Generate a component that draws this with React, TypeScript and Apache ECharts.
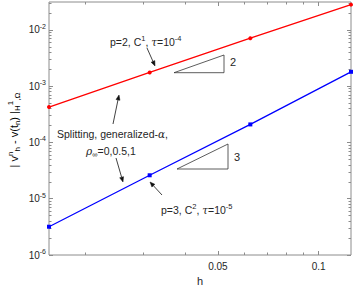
import React, { useEffect, useRef } from "react";
import * as echarts from "echarts";

const H_VALUES = [1 / 64, 1 / 32, 1 / 16, 1 / 8];
const ERR_P2 = [4.26e-4, 1.75e-3, 7.13e-3, 2.81e-2];
const ERR_P3 = [3.18e-6, 2.61e-5, 2.09e-4, 1.8e-3];
const X_LABEL_TICKS = [0.05, 0.1];
const X_MINOR_TICKS = [0.02, 0.03, 0.04, 0.06, 0.07, 0.08, 0.09];
const Y_DECADES = [-6, -5, -4, -3, -2];
const Y_MAX = 0.0313;
const Y_MIN = 1e-6;

const FONT = '"Liberation Sans", Arial, Helvetica, sans-serif';
const TXT = "#262626";
const FRAME = "#8c8c8c";

const lg = (v: number) => Math.log10(v);

const mkRich = (fs: number, ss: number, off: number) => ({
  n: { fontSize: fs, fontFamily: FONT, color: TXT, lineHeight: fs + 2, verticalAlign: "middle" },
  sp: { fontSize: ss, fontFamily: FONT, color: TXT, lineHeight: ss + 1, padding: [0, 0, off, 0], verticalAlign: "middle" },
  sb: { fontSize: ss, fontFamily: FONT, color: TXT, lineHeight: ss + 1, padding: [off, 0, 0, 0], verticalAlign: "middle" },
  g: { fontSize: fs, fontFamily: "DejaVu Serif, serif", fontStyle: "italic", color: TXT, lineHeight: fs + 2, verticalAlign: "middle" },
});
const richTick = mkRich(10, 7, 7);
const richAnn = mkRich(10.5, 7.5, 7);
const richTitle = mkRich(11, 8, 7);

function arrow(x1: number, y1: number, x2: number, y2: number) {
  const dx = x2 - x1;
  const dy = y2 - y1;
  const L = Math.sqrt(dx * dx + dy * dy);
  const ux = dx / L;
  const uy = dy / L;
  const hl = 5;
  const hw = 2;
  const bx = x2 - ux * hl;
  const by = y2 - uy * hl;
  return {
    type: "group",
    silent: true,
    children: [
      { type: "line", shape: { x1, y1, x2: bx, y2: by }, style: { stroke: "#111", lineWidth: 0.8 } },
      {
        type: "polygon",
        shape: {
          points: [
            [x2, y2],
            [bx - uy * hw, by + ux * hw],
            [bx + uy * hw, by - ux * hw],
          ],
        },
        style: { fill: "#111", stroke: "#111", lineWidth: 0.5 },
      },
    ],
  };
}

function tri(pts: number[][]) {
  return {
    type: "polygon",
    silent: true,
    shape: { points: pts },
    style: { fill: "none", stroke: "#333", lineWidth: 0.8 },
  };
}

function label(x: number, y: number, text: string) {
  return {
    type: "text",
    silent: true,
    x,
    y,
    style: { text, rich: richAnn, align: "left", verticalAlign: "middle", fontFamily: FONT, fontSize: 10.5, fill: TXT },
  };
}

export default function App() {
  const ref = useRef<HTMLDivElement>(null);
  useEffect(() => {
    document.body.style.margin = "0";
    if (!ref.current) return;
    const chart = echarts.init(ref.current, undefined, { renderer: "svg" });
    const xmin = lg(H_VALUES[0]);
    const xmax = lg(H_VALUES[H_VALUES.length - 1]);
    const ymin = lg(Y_MIN);
    const ymax = lg(Y_MAX);
    const yMinor: number[] = [];
    Y_DECADES.forEach((d) => {
      for (let k = 2; k <= 9; k++) {
        const v = d + lg(k);
        if (v < ymax) yMinor.push(v);
      }
    });
    const xMaj = X_LABEL_TICKS.map(lg);
    const xMin = X_MINOR_TICKS.map(lg);

    const mkX = (pos: string, ticks: number[], len: number, labels: boolean, name?: string) => ({
      type: "value",
      position: pos,
      min: xmin,
      max: xmax,
      axisLine: { show: false },
      splitLine: { show: false },
      axisTick: { show: true, inside: true, length: len, customValues: ticks, lineStyle: { color: FRAME, width: 1 } },
      axisLabel: labels
        ? {
            show: true,
            customValues: ticks,
            margin: 6,
            fontFamily: FONT,
            fontSize: 10,
            color: TXT,
            formatter: (v: number) => String(parseFloat(Math.pow(10, v).toPrecision(2))),
          }
        : { show: false },
      name: name || "",
      nameLocation: "middle",
      nameGap: 18,
      nameTextStyle: { fontFamily: FONT, fontSize: 11, color: TXT },
    });
    const mkY = (pos: string, ticks: number[], len: number, labels: boolean) => ({
      type: "value",
      position: pos,
      min: ymin,
      max: ymax,
      axisLine: { show: false },
      splitLine: { show: false },
      axisTick: { show: true, inside: true, length: len, customValues: ticks, lineStyle: { color: FRAME, width: 1 } },
      axisLabel: labels
        ? {
            show: true,
            customValues: ticks,
            margin: 3,
            rich: richTick,
            formatter: (v: number) => `{n|10}{sp|${Math.round(v)}}`,
          }
        : { show: false },
    });

    chart.setOption({
      animation: false,
      grid: {
        left: 49,
        right: 3,
        top: 2,
        bottom: 36,
        show: true,
        borderColor: FRAME,
        borderWidth: 1,
        outerBoundsMode: "none",
      },
      xAxis: [
        mkX("bottom", xMaj, 4, true, "h"),
        mkX("bottom", xMin, 2.5, false),
        mkX("top", xMaj, 4, false),
        mkX("top", xMin, 2.5, false),
      ],
      yAxis: [
        mkY("left", Y_DECADES, 4, true),
        mkY("left", yMinor, 2.5, false),
        mkY("right", Y_DECADES, 4, false),
        mkY("right", yMinor, 2.5, false),
      ],
      series: [
        {
          type: "line",
          data: H_VALUES.map((h, i) => [lg(h), lg(ERR_P2[i])]),
          xAxisIndex: 0,
          yAxisIndex: 0,
          symbol: "circle",
          symbolSize: 4,
          lineStyle: { color: "#ff0000", width: 1.3 },
          itemStyle: { color: "#ff0000" },
        },
        {
          type: "line",
          data: H_VALUES.map((h, i) => [lg(h), lg(ERR_P3[i])]),
          xAxisIndex: 0,
          yAxisIndex: 0,
          symbol: "rect",
          symbolSize: 4,
          lineStyle: { color: "#0000ff", width: 1.3 },
          itemStyle: { color: "#0000ff" },
        },
      ],
      graphic: [
        {
          type: "text",
          silent: true,
          x: 14,
          y: 130,
          rotation: Math.PI / 2,
          style: {
            text: "{n|| v}{sp|n}{sb|h}{n| - v(t}{sb|n}{n|) |}{sb|H}{sp|1}{sb|,Ω}",
            rich: richTitle,
            align: "center",
            verticalAlign: "middle",
          },
        },
        label(110, 42, "{n|p=2, C}{sp|1}{n|, }{g|τ}{n|=10}{sp|-4}"),
        arrow(147, 48, 155, 66),
        tri([
          [174, 72.7],
          [224, 72.7],
          [224, 55],
        ]),
        { type: "text", silent: true, x: 230, y: 62, style: { text: "2", fontFamily: FONT, fontSize: 11, fill: TXT, verticalAlign: "middle" } },
        label(57, 134, "{n|Splitting, generalized-}{g|α}{n|,}"),
        label(86, 151, "{g|ρ}{sb|∞}{n|=0,0.5,1}"),
        arrow(113, 124, 119, 95),
        arrow(116, 158, 123, 182),
        tri([
          [177, 169],
          [228, 169],
          [228, 144],
        ]),
        { type: "text", silent: true, x: 234, y: 157, style: { text: "3", fontFamily: FONT, fontSize: 11, fill: TXT, verticalAlign: "middle" } },
        label(161, 210, "{n|p=3, C}{sp|2}{n|, }{g|τ}{n|=10}{sp|-5}"),
        arrow(162, 195, 150, 182),
      ],
    });
    return () => chart.dispose();
  }, []);
  return <div ref={ref} style={{ width: 354, height: 291 }} />;
}
